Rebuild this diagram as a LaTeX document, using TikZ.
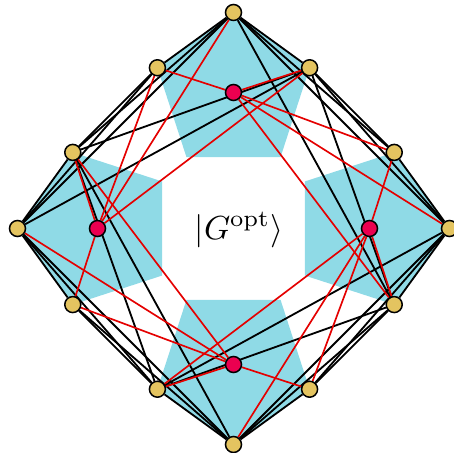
\documentclass[tikz,border=0pt]{standalone}
\pgfdeclarelayer{bg}
\pgfdeclarelayer{edges}
\pgfsetlayers{bg,edges,main}
\definecolor{pentblue}{RGB}{143,218,230}
\definecolor{nodeyellow}{RGB}{228,196,96}
\definecolor{nodered}{RGB}{235,0,80}
\definecolor{edgered}{RGB}{228,0,0}
\tikzset{
  pent/.style={fill=pentblue},
  ynode/.style={circle,draw=black,line width=0.45pt,fill=nodeyellow,minimum size=4.8pt,inner sep=0pt},
  rnode/.style={circle,draw=black,line width=0.45pt,fill=nodered,minimum size=4.8pt,inner sep=0pt},
  bedge/.style={draw=black,line width=0.55pt},
  redge/.style={draw=edgered,line width=0.5pt}
}
\begin{document}
\begin{tikzpicture}[x=0.3pt,y=0.3pt]
\useasboundingbox (-233.5,-224.5) rectangle (220.5,228.5);
% nodes
\foreach \k in {0,1,2,3}{
  \pgfmathsetmacro\a{90-90*\k}
  \pgfmathsetmacro\am{\a-72}
  \pgfmathsetmacro\ap{\a+72}
  \pgfmathtruncatemacro\i{3*\k}
  \pgfmathtruncatemacro\j{3*\k+1}
  \pgfmathtruncatemacro\m{mod(3*\k+11,12)}
  \node[ynode] (y\i) at (\a:216) {};
  \node[ynode] (y\j) at ([shift={(\a:136)}]\am:80) {};
  \node[ynode] (y\m) at ([shift={(\a:136)}]\ap:80) {};
  \node[rnode] (r\k) at (\a:136) {};
  \begin{pgfonlayer}{bg}
    \fill[pent,shift={(\a:136)}] (\a:80) -- (\a+72:80) -- (\a+144:80) -- (\a+216:80) -- (\a+288:80) -- cycle;
  \end{pgfonlayer}
}
\node (label) at (5.5,-1.5) {$|G^{\mathrm{opt}}\rangle$};
% edges
\begin{pgfonlayer}{edges}
\foreach \s in {0,3,6,9}{
  \pgfmathtruncatemacro\a{\s}
  \pgfmathtruncatemacro\b{mod(\s+1,12)}
  \pgfmathtruncatemacro\c{mod(\s+2,12)}
  \pgfmathtruncatemacro\d{mod(\s+3,12)}
  \pgfmathtruncatemacro\e{mod(\s+4,12)}
  \draw[bedge] (y\a) -- (y\b);
  \draw[bedge] (y\b) -- (y\c);
  \draw[bedge] (y\c) -- (y\d);
  \draw[bedge] (y\a) -- (y\c);
  \draw[bedge] (y\b) -- (y\d);
  \draw[bedge] (y\a) -- (y\d);
  \draw[bedge] (y\b) -- (y\e);
  \draw[bedge] (y\a) -- (y\e);
}
\foreach \k in {0,1,2,3}{
  \pgfmathtruncatemacro\f{mod(3*\k+11,12)}
  \pgfmathtruncatemacro\g{mod(3*\k+1,12)}
  \pgfmathtruncatemacro\h{mod(3*\k+2,12)}
  \pgfmathtruncatemacro\u{mod(3*\k+3,12)}
  \pgfmathtruncatemacro\v{mod(3*\k+4,12)}
  \draw[redge] (r\k) -- (y\f);
  \draw[redge] (r\k) -- (y\g);
  \draw[redge] (r\k) -- (y\h);
  \draw[redge] (r\k) -- (y\u);
  \draw[redge] (r\k) -- (y\v);
}
\end{pgfonlayer}
\end{tikzpicture}
\end{document}
